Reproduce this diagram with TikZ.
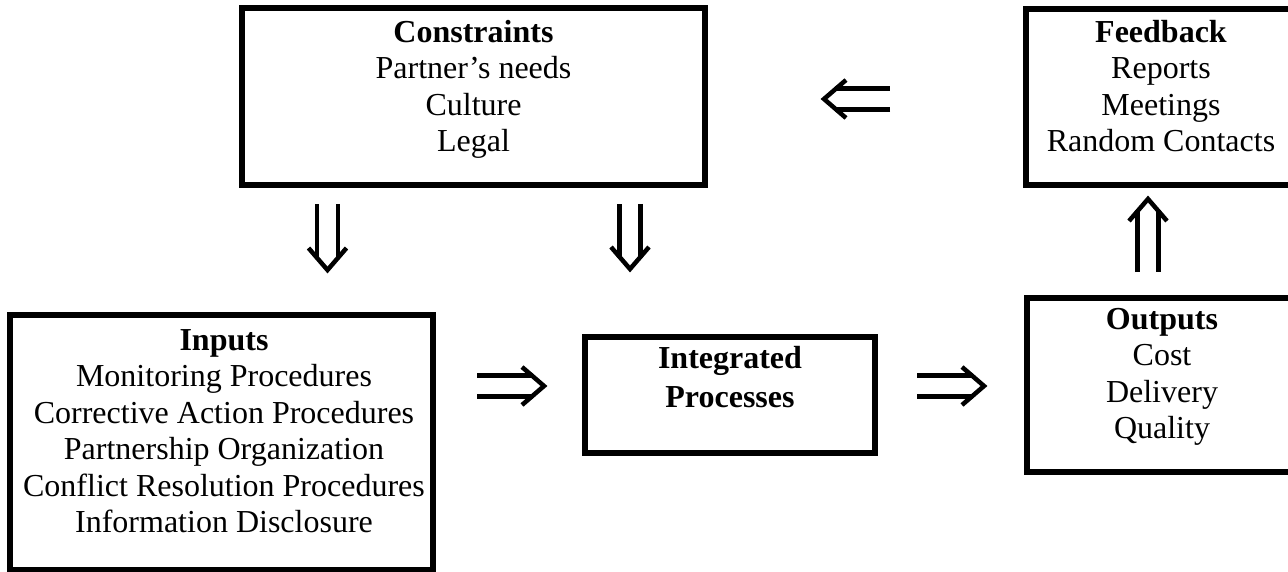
\documentclass[tikz,border=0pt]{standalone}
\usepackage{fontspec}
\setmainfont{Liberation Serif}
\usetikzlibrary{decorations.markings}
\begin{document}
\begin{tikzpicture}[x=1pt,y=-1pt,
  box/.style={draw, line width=5.5pt, outer sep=0pt, inner sep=0pt, anchor=north west},
  txt/.style={anchor=north, align=center, inner sep=0pt, font=\fontsize{32}{36.5}\selectfont},
  dbl/.style={line width=4.5pt, double distance=16.5pt, shorten >=13pt,
    postaction={decorate, decoration={markings, mark=at position 1 with {%
      \draw[line width=4.5pt, shorten >=0pt, shorten <=0pt, line join=miter]
        (-24pt,19pt) -- (-2pt,0pt) -- (-24pt,-19pt);}}}}
]
\clip (0,0) rectangle (1288,572);
\fill[white] (0,0) rectangle (1288,572);

% boxes
\node[box, minimum width=463pt, minimum height=177pt] (cons) at (242,8) {};
\node[box, minimum width=270pt, minimum height=176pt] (feed) at (1026,9) {};
\node[box, minimum width=423pt, minimum height=255pt] (inputs) at (10,315) {};
\node[box, minimum width=290pt, minimum height=116pt] (integ) at (585,337) {};
\node[box, minimum width=269pt, minimum height=174pt] (outputs) at (1027,298) {};

% texts
\node[txt] (consT) at (473.5,20) {\textbf{Constraints}\\Partner’s needs\\Culture\\Legal};
\node[txt] (feedT) at (1161,20) {\textbf{Feedback}\\Reports\\Meetings\\Random Contacts};
\node[txt] (inputsT) at (224,329) {\textbf{Inputs}\\Monitoring Procedures\\Corrective Action Procedures\\Partnership Organization\\Conflict Resolution Procedures\\Information Disclosure};
\node[txt, font=\fontsize{32}{39}\selectfont\bfseries] (integT) at (730,346) {Integrated\\Processes};
\node[txt] (outputsT) at (1162,308) {\textbf{Outputs}\\Cost\\Delivery\\Quality};

% arrow end points
\coordinate (inR) at (477,386);
\coordinate (intL) at (546,386);
\coordinate (intR) at (917,386);
\coordinate (outL) at (986,386);
\coordinate (feedL) at (890,99);
\coordinate (consR) at (822,99);
\coordinate (consB1) at (327.5,204);
\coordinate (inT) at (327.5,272);
\coordinate (consB2) at (630,204);
\coordinate (intT) at (630,271);
\coordinate (outT) at (1148,272);
\coordinate (feedB) at (1148,197);

% connectors
\draw[dbl] (inR) -- (intL);
\draw[dbl] (intR) -- (outL);
\draw[dbl] (feedL) -- (consR);
\draw[dbl] (consB1) -- (inT);
\draw[dbl] (consB2) -- (intT);
\draw[dbl] (outT) -- (feedB);
\end{tikzpicture}
\end{document}
